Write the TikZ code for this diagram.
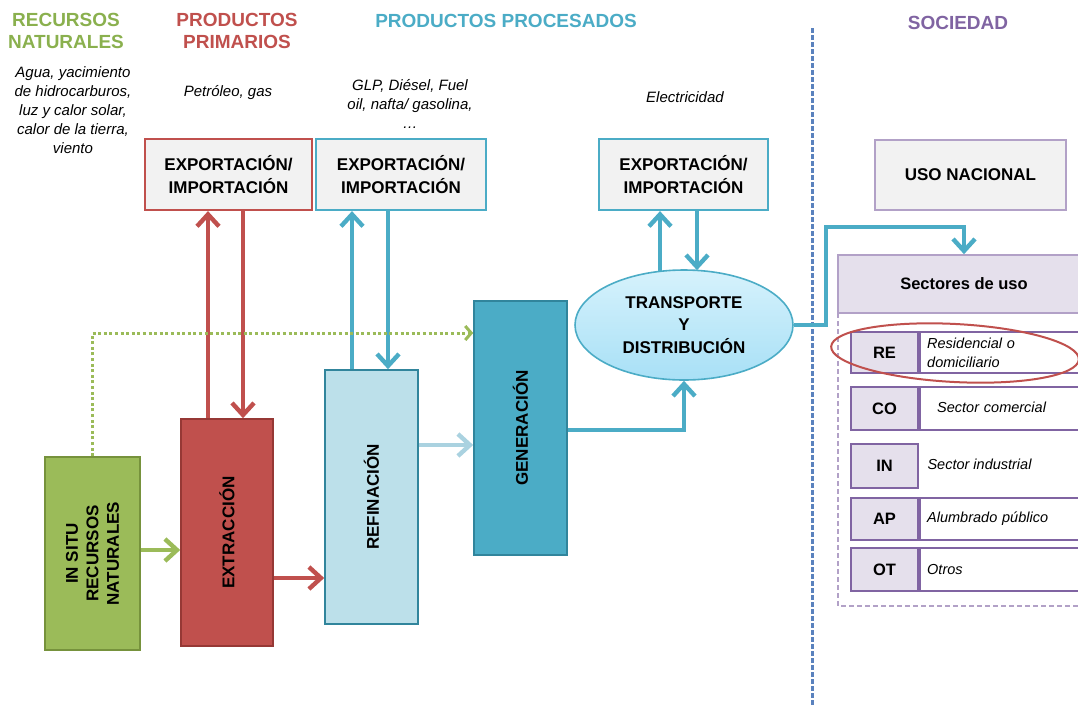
\documentclass[tikz,border=0pt]{standalone}
\usepackage{fontspec}
\setmainfont{Liberation Sans}
\usetikzlibrary{arrows.meta,shapes.geometric,calc}
\definecolor{cgreen}{RGB}{155,187,89}
\definecolor{cgreenT}{RGB}{138,176,78}
\definecolor{cgreenD}{RGB}{118,146,60}
\definecolor{cred}{RGB}{192,80,77}
\definecolor{credD}{RGB}{150,56,53}
\definecolor{cteal}{RGB}{75,172,198}
\definecolor{ctealD}{RGB}{49,133,156}
\definecolor{cltblue}{RGB}{188,224,234}
\definecolor{cltarrow}{RGB}{170,210,224}
\definecolor{cpurT}{RGB}{128,100,162}
\definecolor{cpurL}{RGB}{178,161,199}
\definecolor{clav}{RGB}{229,224,236}
\definecolor{boxgray}{RGB}{242,242,242}
\definecolor{cdash}{RGB}{90,130,190}
\definecolor{elltop}{RGB}{214,242,252}
\definecolor{ellbot}{RGB}{168,224,246}
\begin{document}
\begin{tikzpicture}[x=1pt,y=-1pt,
  bt/.style={font=\fontsize{17}{22.5}\selectfont\bfseries, align=center},
  it/.style={font=\fontsize{15}{19}\selectfont\itshape, align=center},
  ttl/.style={font=\fontsize{19}{22}\selectfont\bfseries, align=center},
  eibox/.style={rectangle, fill=boxgray, line width=2.2pt, minimum width=167pt, minimum height=71pt, inner sep=0pt, bt},
  bigbox/.style={rectangle, line width=1.6pt, inner sep=0pt, minimum width=93pt, minimum height=254pt},
  vtext/.style={bt, rotate=90, font=\fontsize{17}{20.5}\selectfont\bfseries},
  lab/.style={rectangle, fill=clav, draw=cpurT, line width=2.4pt, minimum width=67pt, inner sep=0pt, font=\fontsize{16.5}{19}\selectfont\bfseries},
  desc/.style={rectangle, fill=white, draw=cpurT, line width=2pt, minimum width=172pt, text width=158pt, inner xsep=7pt, inner ysep=0pt, align=left, font=\fontsize{14.5}{19}\selectfont\itshape},
  arr/.style={line width=4.4pt, -{Straight Barb[length=12pt,width=22pt]}},
]
\useasboundingbox (0,0) rectangle (1078,705);

% titles
\node[ttl, text=cgreenT] (t1) at (66,31) {RECURSOS\\NATURALES};
\node[ttl, text=cred] (t2) at (237,31) {PRODUCTOS\\PRIMARIOS};
\node[ttl, text=cteal] (t3) at (506,21) {PRODUCTOS PROCESADOS};
\node[ttl, text=cpurT] (t4) at (958,23) {SOCIEDAD};

% descriptions
\node[it] (d1) at (73,110) {Agua, yacimiento\\de hidrocarburos,\\luz y calor solar,\\calor de la tierra,\\viento};
\node[it] (d2) at (228,93) {Petróleo, gas};
\node[it] (d3) at (410,104) {GLP, Diésel, Fuel\\oil, nafta/ gasolina,\\…};
\node[it] (d4) at (685,97) {Electricidad};

% separator
\draw[cdash, line width=3pt, dash pattern=on 5pt off 2pt] (812,28) -- (812,705);

% export/import boxes
\node[eibox, draw=cred] (ei1) at (228.5,174.5) {EXPORTACIÓN/\\IMPORTACIÓN};
\node[eibox, draw=cteal, minimum width=170pt] (ei2) at (401,174.5) {EXPORTACIÓN/\\IMPORTACIÓN};
\node[eibox, draw=cteal, minimum width=169pt] (ei3) at (683.5,174.5) {EXPORTACIÓN/\\IMPORTACIÓN};
\node[eibox, draw=cpurL, line width=1.6pt, minimum width=191pt, minimum height=70pt] (uso) at (970.5,175) {USO NACIONAL};

% process boxes
\node[bigbox, fill=cgreen, draw=cgreenD, minimum width=95pt, minimum height=193pt] (insitu) at (92.5,553.5) {};
\node[vtext] at (insitu) {IN SITU\\RECURSOS\\NATURALES};
\node[bigbox, fill=cred, draw=credD, minimum width=92pt, minimum height=227pt] (ext) at (227,532.5) {};
\node[vtext] at (ext) {EXTRACCIÓN};
\node[bigbox, fill=cltblue, draw=ctealD] (ref) at (371.5,497) {};
\node[vtext] at (ref) {REFINACIÓN};
\node[bigbox, fill=cteal, draw=ctealD] (gen) at (520.5,428) {};
\node[vtext] at (gen) {GENERACIÓN};
\node[ellipse, top color=elltop, bottom color=ellbot, draw=cteal, line width=1.6pt, minimum width=218pt, minimum height=110pt, inner sep=0pt, bt] (td) at (684,325) {TRANSPORTE\\Y\\DISTRIBUCIÓN};

% society panel
\draw[cpurL, line width=2pt, dash pattern=on 5pt off 3pt] (838,313) rectangle (1095,606);
\node[rectangle, fill=clav, draw=cpurL, line width=1.6pt, minimum width=252pt, minimum height=58pt, inner sep=0pt, font=\fontsize{16.5}{19}\selectfont\bfseries] (sect) at (964,284) {Sectores de uso};

\node[lab, minimum height=41pt] (re) at (884.5,352.5) {RE};
\node[desc, minimum height=41pt, anchor=west] (redesc) at (re.east) {Residencial o\\domiciliario};
\node[lab, minimum height=43pt] (co) at (884.5,408.5) {CO};
\node[desc, minimum height=43pt, anchor=west] (codesc) at (co.east) {\hspace*{10pt}\raisebox{3pt}{Sector comercial}};
\node[lab, minimum height=44pt] (in) at (884.5,466) {IN};
\node[font=\fontsize{14.5}{19}\selectfont\itshape, anchor=west] (indesc) at (924,464) {Sector industrial};
\node[lab, minimum height=42pt] (ap) at (884.5,519) {AP};
\node[desc, minimum height=42pt, anchor=west] (apdesc) at (ap.east) {\raisebox{2pt}{Alumbrado público}};
\node[lab, minimum height=43pt] (ot) at (884.5,569.5) {OT};
\node[desc, minimum height=43pt, anchor=west] (otdesc) at (ot.east) {\raisebox{-2pt}{Otros}};

\draw[cred, line width=2pt, rotate around={-3:(955,353)}] (955,353) ellipse [x radius=124, y radius=29];

% arrows primary
\draw[arr, cred] ([xshift=-19pt]ext.north) -- ([xshift=-19pt]ext.north |- ei1.south);
\draw[arr, cred] ([xshift=14.5pt]ei1.south) -- ([xshift=14.5pt]ei1.south |- ext.north);
\draw[arr, cteal] ([xshift=-24pt,yshift=-2pt]td.north) -- ([xshift=-24pt]td.north |- ei3.south);
\draw[arr, cteal] ([xshift=13.5pt]ei3.south) -- ([xshift=13.5pt,yshift=-1pt]ei3.south |- td.north);
\draw[arr, cteal] ([xshift=-19.5pt]ref.north) -- ([xshift=-19.5pt]ref.north |- ei2.south);
\draw[arr, cteal] ([xshift=-13pt]ei2.south) -- ([xshift=-13pt]ei2.south |- ref.north);

% horizontal flows
\draw[arr, cgreen] ([yshift=3.5pt]insitu.east) -- ([yshift=3.5pt]insitu.east -| ext.west);
\draw[arr, cred] ([yshift=-45.5pt]ext.east) -- ([yshift=-45.5pt]ext.east -| ref.west);
\draw[arr, cltarrow] ([yshift=52pt]ref.east) -- ([yshift=52pt]ref.east -| gen.west);
\draw[cgreen, line width=3pt, dash pattern=on 3pt off 2.6pt, -{Straight Barb[length=6pt,width=14pt]}] (insitu.north) |- ([yshift=95pt]gen.west);
\draw[arr, cteal] ([yshift=-2pt]gen.east) -| (td.south);
\coordinate (turn) at (826,227);
\draw[arr, cteal] (td.east) -| (turn) -| (sect.north);
\end{tikzpicture}
\end{document}
